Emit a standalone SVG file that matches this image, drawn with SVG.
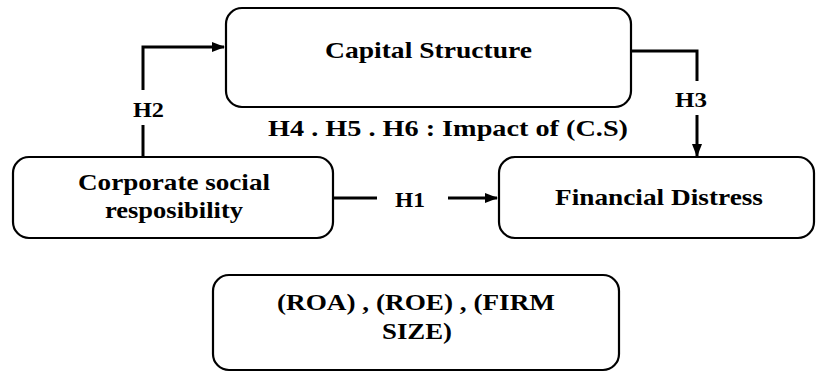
<svg xmlns="http://www.w3.org/2000/svg" width="816" height="372" viewBox="0 0 816 372">
<style>
.box{fill:#fff;stroke:#000;stroke-width:2.2}
.t{font-weight:bold;font-size:23px;fill:#000;text-anchor:middle}
.s{font-size:22px}
.c{fill:none;stroke:#000;stroke-width:3}
</style>
<defs>
<marker id="ah" markerWidth="13" markerHeight="10" refX="12" refY="5" orient="auto" markerUnits="userSpaceOnUse" viewBox="0 0 13 10">
<path d="M0,0 L13,5 L0,10 Z" fill="#000"/>
</marker>
</defs>
<rect width="816" height="372" fill="#fff"/>
<g id="capital">
<rect class="box" x="226" y="8" width="405" height="99" rx="16"/>
<text class="t" font-family="Liberation Serif, serif" x="428.5" y="58" textLength="207" lengthAdjust="spacingAndGlyphs">Capital Structure</text>
</g>
<g id="csr">
<rect class="box" x="13" y="157" width="320" height="81" rx="16"/>
<text class="t" font-family="Liberation Serif, serif" x="174" y="190" textLength="192" lengthAdjust="spacingAndGlyphs">Corporate social</text>
<text class="t" font-family="Liberation Serif, serif" x="174" y="218" textLength="138" lengthAdjust="spacingAndGlyphs">resposibility</text>
</g>
<g id="distress">
<rect class="box" x="499" y="157" width="315" height="81" rx="16"/>
<text class="t" font-family="Liberation Serif, serif" x="659" y="205" textLength="208" lengthAdjust="spacingAndGlyphs">Financial Distress</text>
</g>
<g id="controls">
<rect class="box" x="213" y="275" width="406" height="95" rx="16"/>
<text class="t" font-family="Liberation Serif, serif" x="416" y="310" textLength="278" lengthAdjust="spacingAndGlyphs">(ROA) , (ROE) , (FIRM</text>
<text class="t" font-family="Liberation Serif, serif" x="417" y="339" textLength="70" lengthAdjust="spacingAndGlyphs">SIZE)</text>
</g>
<g id="connectors">
<path class="c" d="M143,157 V125"/>
<path class="c" d="M143,90 V47 H224" marker-end="url(#ah)"/>
<path class="c" d="M631,51 H697 V81"/>
<path class="c" d="M697,115 V156" marker-end="url(#ah)"/>
<path class="c" d="M333,198 H377"/>
<path class="c" d="M448,198 H497" marker-end="url(#ah)"/>
<text class="t s" font-family="Liberation Serif, serif" x="148.5" y="117" textLength="31" lengthAdjust="spacingAndGlyphs">H2</text>
<text class="t s" font-family="Liberation Serif, serif" x="691" y="107" textLength="32" lengthAdjust="spacingAndGlyphs">H3</text>
<text class="t s" font-family="Liberation Serif, serif" x="410" y="207" textLength="30" lengthAdjust="spacingAndGlyphs">H1</text>
<text class="t" font-family="Liberation Serif, serif" x="448" y="136" textLength="360" lengthAdjust="spacingAndGlyphs">H4 . H5 . H6 : Impact of (C.S)</text>
</g>
</svg>
